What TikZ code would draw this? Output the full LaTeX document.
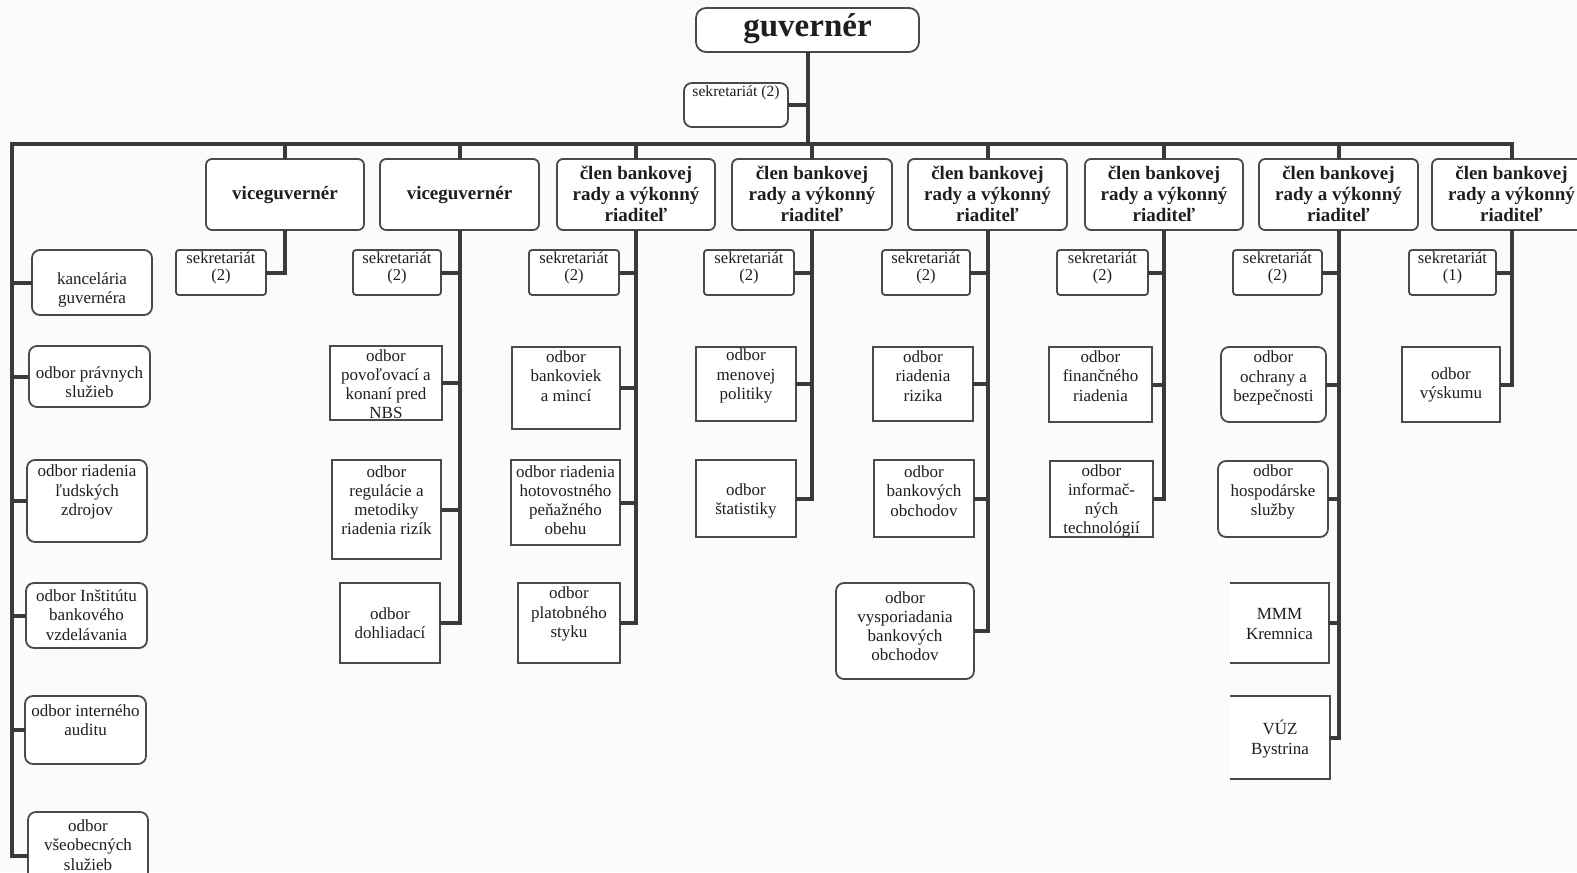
\documentclass[tikz,border=0pt]{standalone}
\usepackage{fontspec}
\setmainfont{Liberation Serif}
\usetikzlibrary{fit}
\definecolor{linec}{HTML}{3A3A3A}
\definecolor{boxc}{HTML}{4A4A4A}
\definecolor{textc}{HTML}{1E1E1E}
\definecolor{bgc}{HTML}{FBFBFB}
\tikzset{
  box/.style={draw=boxc, line width=0.9pt, inner sep=0pt, outer sep=0pt, fill=white},
  rbox/.style={box, rounded corners=4pt},
  sbox/.style={box, rounded corners=1.5pt},
  obox/.style={inner sep=0pt, outer sep=0pt, fill=white},
  conn/.style={draw=linec, line width=2pt, line join=miter},
  txt/.style={align=center, inner sep=0pt, text=textc, font=\fontsize{8.5}{9.6}\selectfont},
  sektxt/.style={txt, font=\fontsize{8.3}{8.8}\selectfont},
  head/.style={txt, font=\bfseries\fontsize{9.5}{10.5}\selectfont},
}
\newcommand\bx[8]{%
  \node[#6, fit={(#2,#3) (#4,#5)}] (#1) {};
  \node[txt] (#1t) at ({(#2+#4)/2},#7) {#8};}
\newcommand\hd[3]{%
  \node[rbox, rounded corners=3pt, fit={(#2,159) (#3,230)}] (#1) {};
  \node[head] (#1t) at ({(#2+#3)/2},194) {člen bankovej\\rady a výkonný\\riaditeľ};}
\newcommand\sk[4]{%
  \node[sbox, fit={(#2,250) (#3,295)}] (#1) {};
  \node[sektxt] (#1t) at ({(#2+#3)/2},268) {sekretariát\\(#4)};}
\begin{document}
\begin{tikzpicture}[x=0.5pt,y=-0.5pt]
\useasboundingbox (0,0) rectangle (1577,872);
\fill[bgc] (0,0) rectangle (1577,872);
\clip (0,0) rectangle (1577,872);

% top
\node[rbox, rounded corners=5pt, fit={(696,8) (919,52)}] (g) {};
\node[txt, font=\bfseries\fontsize{16.5}{18}\selectfont] (gt) at (807.5,29) {guvernér};
\node[rbox, fit={(684,83) (788,127)}] (ts) {};
\node[sektxt, font=\fontsize{7.8}{9}\selectfont] (tst) at (736,93) {sekretariát (2)};

% heads
\node[rbox, rounded corners=3pt, fit={(206,159) (364,230)}] (c1) {};
\node[head] (c1t) at (285,195) {viceguvernér};
\node[rbox, rounded corners=3pt, fit={(380,159) (539,230)}] (c2) {};
\node[head] (c2t) at (459.5,195) {viceguvernér};
\hd{c3}{557}{715}
\hd{c4}{732}{892}
\hd{c5}{908}{1067}
\hd{c6}{1085}{1243}
\hd{c7}{1259}{1418}
\hd{c8}{1432}{1591}

% secretariats
\sk{s1}{176}{266}{2}
\sk{s2}{353}{441}{2}
\sk{s3}{529}{619}{2}
\sk{s4}{704}{794}{2}
\sk{s5}{882}{970}{2}
\sk{s6}{1057}{1148}{2}
\sk{s7}{1233}{1322}{2}
\sk{s8}{1409}{1496}{1}

% left column
\bx{l1}{32}{250}{152}{315}{rbox}{290}{kancelária\\guvernéra}
\bx{l2}{29}{346}{150}{407}{rbox}{382}{odbor právnych\\služieb}
\bx{l3}{27}{460}{147}{542}{rbox}{492}{odbor riadenia\\ľudských\\zdrojov}
\bx{l4}{26}{583}{147}{648}{rbox}{615}{odbor Inštitútu\\bankového\\vzdelávania}
\bx{l5}{25}{696}{146}{764}{rbox}{720}{odbor interného\\auditu}
\bx{l6}{28}{812}{148}{900}{rbox}{845}{odbor\\všeobecných\\služieb}

% column 2
\bx{b21}{330}{346}{442}{420}{box}{384}{odbor\\povoľovací a\\konaní pred\\NBS}
\bx{b22}{332}{460}{441}{559}{box}{500}{odbor\\regulácie a\\metodiky\\riadenia rizík}
\bx{b23}{340}{583}{440}{663}{box}{623}{odbor\\dohliadací}

% column 3
\bx{b31}{512}{347}{620}{429}{box}{376}{odbor\\bankoviek\\a mincí}
\bx{b32}{511}{460}{620}{545}{box}{500}{odbor riadenia\\hotovostného\\peňažného\\obehu}
\bx{b33}{518}{583}{620}{663}{box}{614}{odbor\\platobného\\styku}

% column 4
\bx{b41}{696}{347}{796}{421}{box}{376}{odbor\\menovej\\politiky}
\bx{b42}{696}{460}{796}{537}{box}{501}{odbor\\štatistiky}

% column 5
\bx{b51}{873}{347}{973}{421}{box}{376}{odbor\\riadenia\\rizika}
\bx{b52}{874}{460}{974}{537}{box}{491}{odbor\\bankových\\obchodov}
\bx{b53}{836}{583}{974}{679}{rbox}{626}{odbor\\vysporiadania\\bankových\\obchodov}

% column 6
\bx{b61}{1049}{347}{1152}{422}{box}{376}{odbor\\finančného\\riadenia}
\bx{b62}{1050}{461}{1153}{537}{box}{501}{odbor\\informač-\\ných\\technológií}

% column 7
\bx{b71}{1221}{347}{1326}{422}{rbox}{378}{odbor\\ochrany a\\bezpečnosti}
\bx{b72}{1218}{461}{1328}{537}{rbox}{492}{odbor\\hospodárske\\služby}
\bx{b73}{1230}{583}{1329}{663}{obox}{624}{MMM\\Kremnica}
\bx{b74}{1230}{696}{1330}{779}{obox}{739}{VÚZ\\Bystrina}
\draw[draw=boxc, line width=0.9pt] (b73.north west) -- (b73.north east) -- (b73.south east) -- (b73.south west);
\draw[draw=boxc, line width=0.9pt] (b74.north west) -- (b74.north east) -- (b74.south east) -- (b74.south west);

% column 8
\bx{b81}{1402}{347}{1500}{422}{box}{385}{odbor\\výskumu}

% ---- connectors ----
\coordinate (busL) at (12,144);
\path (c8.north |- busL) coordinate (busR);
\draw[conn] (g.south) -- (g.south |- busL);
\draw[conn] (ts.east) -- (ts.east -| g.south);
\draw[conn] (l6.west) -| (busL) -- (busR) -- (c8.north);
\foreach \c in {c1,c2,c3,c4,c5,c6,c7} \draw[conn] (\c.north) -- (\c.north |- busL);
\foreach \l in {l1,l2,l3,l4,l5} \draw[conn] (\l.west) -- (\l.west -| busL);

% column trunks
\draw[conn] (c1.south) |- (s1.east);
\draw[conn] (c2.south) |- (b23.east);
\draw[conn] (c3.south) |- (b33.east);
\draw[conn] (c4.south) |- (b42.east);
\draw[conn] (c5.south) |- (b53.east);
\draw[conn] (c6.south) |- (b62.east);
\draw[conn] (c7.south) |- (b74.east);
\draw[conn] (c8.south) |- (b81.east);

\foreach \b/\c in {s2/c2,b21/c2,b22/c2,s3/c3,b31/c3,b32/c3,s4/c4,b41/c4,s5/c5,b51/c5,b52/c5,s6/c6,b61/c6,s7/c7,b71/c7,b72/c7,b73/c7,s8/c8}
  \draw[conn] (\b.east) -- (\b.east -| \c.south);
\end{tikzpicture}
\end{document}
